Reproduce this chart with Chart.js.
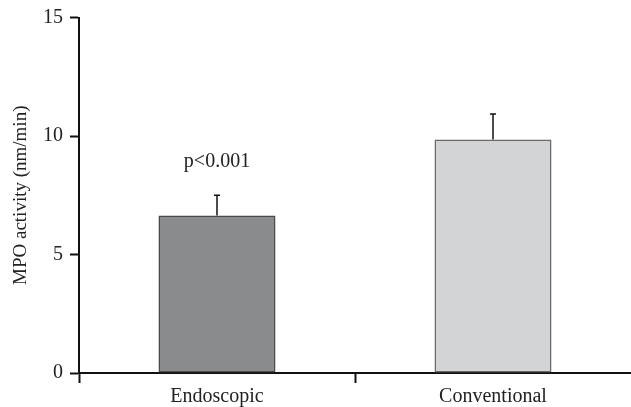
<!DOCTYPE html>
<html>
<head>
<meta charset="utf-8">
<script src="https://cdn.jsdelivr.net/npm/chart.js@4"></script>
<style>
  html, body { margin: 0; padding: 0; background: #fff; }
  #wrap { width: 631px; height: 407px; }
</style>
</head>
<body>
<div id="wrap"><canvas id="mpoChart" width="631" height="407"></canvas></div>
<script>
// values
var groups = ['Endoscopic', 'Conventional'];
var meanMPO = [6.65, 9.85];
var errMPO = [0.85, 1.08];
var barFills = ['#8a8b8d', '#d3d4d6'];
var barLines = ['#4a4a4a', '#6a6a6a'];
var yTicks = [0, 5, 10, 15];
var noteText = 'p<0.001';
var noteIndex = 0;
var noteValue = 8.9;

var serif = '"Liberation Serif", "DejaVu Serif", serif';

// error bars + p-value note
var errorBars = {
    id: 'errorBars',
    afterDatasetsDraw: function(chart) {
        var ctx = chart.ctx;
        var xs = chart.scales.x, ys = chart.scales.y;
        ctx.save();
        ctx.strokeStyle = '#111';
        ctx.lineWidth = 1.5;
        for (var i = 0; i < meanMPO.length; i++) {
            var x = xs.getPixelForValue(i);
            var y0 = ys.getPixelForValue(meanMPO[i]);
            var y1 = ys.getPixelForValue(meanMPO[i] + errMPO[i]);
            ctx.beginPath();
            ctx.moveTo(x, y0);
            ctx.lineTo(x, y1);
            ctx.moveTo(x - 3, y1);
            ctx.lineTo(x + 3, y1);
            ctx.stroke();
        }
        ctx.fillStyle = '#222';
        ctx.font = '20px ' + serif;
        ctx.textAlign = 'center';
        ctx.textBaseline = 'middle';
        ctx.fillText(noteText, xs.getPixelForValue(noteIndex), ys.getPixelForValue(noteValue));
        ctx.restore();
    }
};

var ctx = document.getElementById('mpoChart').getContext('2d');
var myChart = new Chart(ctx, {
    type: 'bar',
    data: {
        labels: groups,
        datasets: [{
            data: meanMPO,
            backgroundColor: barFills,
            borderColor: barLines,
            borderWidth: 1.5,
            borderSkipped: false,
            barPercentage: 0.424,
            categoryPercentage: 1
        }]
    },
    options: {
        responsive: false,
        animation: false,
        layout: { padding: { top: 0, right: 0, bottom: 0, left: 10 } },
        plugins: {
            legend: { display: false },
            tooltip: { enabled: false }
        },
        scales: {
            x: {
                offset: true,
                grid: {
                    display: true,
                    offset: true,
                    drawOnChartArea: false,
                    drawTicks: true,
                    tickLength: 10,
                    tickWidth: 2,
                    tickColor: function(c) {
                        // hide the extra boundary tick at the right edge
                        return c.type === 'tick' ? '#111' : 'rgba(0,0,0,0)';
                    }
                },
                border: { display: true, color: '#111', width: 2 },
                ticks: {
                    color: '#222',
                    padding: 2,
                    font: { family: serif, size: 20 }
                },
                afterFit: function(scale) { scale.height = 34; }
            },
            y: {
                min: 0,
                max: 15,
                afterBuildTicks: function(scale) {
                    scale.ticks = yTicks.map(function(v) { return { value: v }; });
                },
                grid: {
                    display: true,
                    drawOnChartArea: false,
                    drawTicks: true,
                    tickLength: 9,
                    tickWidth: 2,
                    tickColor: '#111'
                },
                border: { display: true, color: '#111', width: 2 },
                ticks: {
                    color: '#222',
                    padding: 7,
                    font: { family: serif, size: 20, lineHeight: 1.05 }
                },
                title: {
                    display: true,
                    text: 'MPO activity (nm/min)',
                    color: '#222',
                    padding: { top: 0, bottom: 4 },
                    font: { family: serif, size: 19 }
                },
                afterFit: function(scale) { scale.width = 69; }
            }
        }
    },
    plugins: [errorBars]
});
</script>
</body>
</html>
